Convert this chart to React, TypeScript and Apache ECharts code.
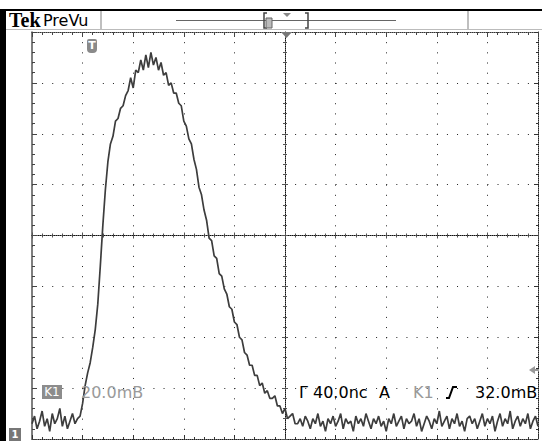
import React, { useEffect, useRef } from "react";
import * as echarts from "echarts";

// ---- data (oscilloscope trace: 40 ns/div, 20 mV/div, trigger at screen centre) ----
const timeStartNs = -200;
const timeStepNs = 2;
const traceMv = [
  // -200 .. -164 ns (baseline)
  -74, -71, -76, -73, -69, -75, -72, -77, -70, -74, -72, -68, -75, -71, -76, -73, -70, -74, -72,
  // -162 .. -2 ns (pulse)
  -71, -66, -59, -54, -50, -44, -37, -27, -12, 4,
  18, 29, 36, 39, 45, 46, 50, 51, 55, 57,
  62, 58, 65, 64, 69, 65, 71, 66, 72, 67,
  70, 65, 68, 63, 64, 59, 60, 56, 56, 52,
  51, 45, 43, 38, 36, 30, 26, 19, 16, 10,
  6, -1, -2, -8, -9, -15, -16, -21, -23, -28,
  -29, -34, -35, -40, -41, -46, -47, -51, -51, -55,
  -55, -59, -58, -62, -61, -64, -64, -63, -67, -67,
  -70,
  // 0 .. 200 ns (tail and baseline)
  -68, -72, -71, -70, -74,
  -74, -72, -75, -71, -73, -76, -72, -74, -70, -75,
  -73, -77, -72, -74, -71, -75, -73, -70, -76, -72,
  -74, -73, -77, -71, -74, -72, -75, -70, -73, -76,
  -72, -74, -71, -75, -73, -77, -72, -74, -70, -75,
  -73, -71, -76, -72, -74, -73, -70, -75, -72, -77,
  -74, -71, -73, -76, -72, -74, -69, -75, -73, -71,
  -76, -72, -74, -70, -75, -73, -77, -72, -71, -74,
  -72, -76, -73, -70, -75, -72, -74, -71, -77, -73,
  -70, -75, -72, -74, -69, -76, -73, -71, -75, -72,
  -74, -70, -76, -73, -71, -75,
];
const xRangeNs = [-200, 200];
const xDivNs = 40;
const yRangeMv = [-80, 80];
const yDivMv = 20;
const headerTexts = ["Tek", "PreVu"];
const channelTexts = ["K1", "20.0mB", "1"];
const statusTexts = ["Г", "40.0nc", "A", "K1", "32.0mB"];

const GRID = { left: 32, top: 32, width: 506, height: 407 };
const FONT = "DejaVu Sans";

function txt(x: number, y: number, text: string, fill: string, size: number, extra: any = {}) {
  return {
    type: "text",
    x,
    y,
    z: 10,
    style: {
      text,
      fill,
      fontSize: size,
      fontFamily: extra.family || FONT,
      fontWeight: extra.weight || "normal",
      textAlign: extra.align || "left",
      align: extra.align || "left",
      textVerticalAlign: "middle",
      verticalAlign: "middle",
    },
  };
}

function baseAxis(dim: "x" | "y", gridIndex: number) {
  const r = dim === "x" ? xRangeNs : yRangeMv;
  return {
    gridIndex,
    type: "value",
    min: r[0],
    max: r[1],
    interval: dim === "x" ? xDivNs : yDivMv,
    axisLabel: { show: false },
    splitLine: { show: false },
    silent: true,
  };
}

export default function App() {
  const ref = useRef<HTMLDivElement>(null);
  useEffect(() => {
    if (!ref.current) return;
    const chart = echarts.init(ref.current, undefined, { renderer: "svg" });
    const data = traceMv.map((v, i) => [timeStartNs + i * timeStepNs, v]);

    const dotV = [1, GRID.height / 40 - 1];
    const dotH = [1, GRID.width / 50 - 1];

    const option: any = {
      animation: false,
      backgroundColor: "#ffffff",
      grid: [{ ...GRID }, { ...GRID }, { ...GRID }],
      xAxis: [
        {
          ...baseAxis("x", 0),
          position: "bottom",
          axisLine: { show: true, onZero: false, lineStyle: { color: "#222", type: [1, 1], width: 1 } },
          axisTick: { show: true, inside: true, length: 4, lineStyle: { color: "#333" } },
          minorTick: { show: true, splitNumber: 5, length: 2, lineStyle: { color: "#333" } },
          splitLine: { show: true, lineStyle: { color: "#222", type: dotV, width: 1 } },
        },
        {
          ...baseAxis("x", 0),
          position: "top",
          axisLine: { show: true, onZero: false, lineStyle: { color: "#333", type: [1, 1], width: 1 } },
          axisTick: { show: true, inside: true, length: 5, lineStyle: { color: "#444" } },
          minorTick: { show: true, splitNumber: 5, length: 3, lineStyle: { color: "#444" } },
        },
        {
          ...baseAxis("x", 1),
          position: "bottom",
          axisLine: { show: true, onZero: true, lineStyle: { color: "#111", type: [1, 1], width: 1 } },
          axisTick: { show: true, inside: false, length: 3, lineStyle: { color: "#555" } },
          minorTick: { show: true, splitNumber: 5, length: 2, lineStyle: { color: "#555" } },
        },
        {
          ...baseAxis("x", 2),
          position: "top",
          axisLine: { show: false, onZero: true },
          axisTick: { show: true, inside: false, length: 3, lineStyle: { color: "#555" } },
          minorTick: { show: true, splitNumber: 5, length: 2, lineStyle: { color: "#555" } },
        },
      ],
      yAxis: [
        {
          ...baseAxis("y", 0),
          position: "left",
          axisLine: { show: true, onZero: false, lineStyle: { color: "#555", width: 1.5 } },
          axisTick: { show: true, inside: true, length: 5, lineStyle: { color: "#444" } },
          minorTick: { show: true, splitNumber: 5, length: 3, lineStyle: { color: "#444" } },
          splitLine: { show: true, lineStyle: { color: "#222", type: dotH, width: 1 } },
        },
        {
          ...baseAxis("y", 0),
          position: "right",
          axisLine: { show: true, onZero: false, lineStyle: { color: "#222", type: [1, 1], width: 1 } },
          axisTick: { show: true, inside: true, length: 4, lineStyle: { color: "#333" } },
          minorTick: { show: true, splitNumber: 5, length: 2, lineStyle: { color: "#333" } },
        },
        {
          ...baseAxis("y", 1),
          position: "left",
          axisLine: { show: true, onZero: true, lineStyle: { color: "#111", type: [1, 1], width: 1 } },
          axisTick: { show: true, inside: false, length: 3, lineStyle: { color: "#555" } },
          minorTick: { show: true, splitNumber: 5, length: 2, lineStyle: { color: "#555" } },
        },
        {
          ...baseAxis("y", 2),
          position: "right",
          axisLine: { show: false, onZero: true },
          axisTick: { show: true, inside: false, length: 3, lineStyle: { color: "#555" } },
          minorTick: { show: true, splitNumber: 5, length: 2, lineStyle: { color: "#555" } },
        },
      ],
      series: [
        {
          type: "line",
          xAxisIndex: 0,
          yAxisIndex: 0,
          data,
          symbol: "none",
          showSymbol: false,
          silent: true,
          z: 5,
          lineStyle: { color: "#3d3d3d", width: 1.7 },
        },
      ],
      graphic: [
        // frame
        { type: "rect", shape: { x: 0, y: 9, width: 542, height: 2 }, style: { fill: "#000" }, z: 10 },
        { type: "rect", shape: { x: 0, y: 9, width: 6, height: 432 }, style: { fill: "#000" }, z: 10 },
        // header
        { type: "line", shape: { x1: 6, y1: 29.5, x2: 542, y2: 29.5 }, style: { stroke: "#bbb", lineWidth: 1 }, z: 10 },
        { type: "line", shape: { x1: 101, y1: 11, x2: 101, y2: 29 }, style: { stroke: "#aaa", lineWidth: 1.5 }, z: 10 },
        { type: "line", shape: { x1: 468, y1: 11, x2: 468, y2: 29 }, style: { stroke: "#aaa", lineWidth: 1.5 }, z: 10 },
        txt(9, 20, headerTexts[0], "#000", 20, { family: "Liberation Serif", weight: "bold" }),
        txt(43, 20, headerTexts[1], "#000", 16),
        { type: "line", shape: { x1: 176, y1: 20.5, x2: 396, y2: 20.5 }, style: { stroke: "#666", lineWidth: 1 }, z: 10 },
        { type: "polyline", shape: { points: [[267, 13], [264, 13], [264, 28], [267, 28]] }, style: { stroke: "#444", lineWidth: 1.5, fill: "none" }, z: 10 },
        { type: "polyline", shape: { points: [[305, 13], [308, 13], [308, 28], [305, 28]] }, style: { stroke: "#444", lineWidth: 1.5, fill: "none" }, z: 10 },
        { type: "rect", shape: { x: 266, y: 18, width: 6, height: 10 }, style: { fill: "#bbb", stroke: "#666", lineWidth: 1 }, z: 10 },
        { type: "polygon", shape: { points: [[283, 13], [291, 13], [287, 17]] }, style: { fill: "#888" }, z: 10 },
        // trigger position marker
        { type: "polygon", shape: { points: [[281, 32], [292, 32], [286.5, 38]] }, style: { fill: "#777" }, z: 10 },
        // T badge
        { type: "rect", shape: { x: 87, y: 39, width: 10, height: 14, r: [2, 2, 4, 4] }, style: { fill: "#8a8a8a" }, z: 10 },
        txt(92, 45.5, "T", "#fff", 11, { weight: "bold", align: "center" }),
        // trigger level arrow
        { type: "polygon", shape: { points: [[529, 370], [535, 366], [535, 374]] }, style: { fill: "#999" }, z: 10 },
        { type: "line", shape: { x1: 535, y1: 370, x2: 539, y2: 370 }, style: { stroke: "#999", lineWidth: 2 }, z: 10 },
        // channel marker
        { type: "rect", shape: { x: 9, y: 428, width: 12, height: 13 }, style: { fill: "#777" }, z: 10 },
        txt(15, 434.5, channelTexts[2], "#fff", 10, { weight: "bold", align: "center" }),
        // status line
        { type: "rect", shape: { x: 42, y: 385, width: 20, height: 14 }, style: { fill: "#8c8c8c" }, z: 10 },
        txt(52, 392, channelTexts[0], "#fff", 12, { align: "center" }),
        txt(81, 392, channelTexts[1], "#9a9a9a", 16),
        txt(299, 392, statusTexts[0], "#000", 16),
        txt(313, 392, statusTexts[1], "#000", 16),
        txt(379, 392, statusTexts[2], "#000", 16),
        txt(413, 392, statusTexts[3], "#999", 16),
        { type: "polyline", shape: { points: [[446, 398], [449, 398], [453, 387], [457, 387]] }, style: { stroke: "#000", lineWidth: 2, fill: "none" }, z: 10 },
        txt(475, 392, statusTexts[4], "#000", 16),
      ],
    };
    chart.setOption(option);
    return () => chart.dispose();
  }, []);
  return (
    <div
      ref={ref}
      style={{ position: "fixed", left: 0, top: 0, width: 542, height: 441, background: "#fff" }}
    />
  );
}
